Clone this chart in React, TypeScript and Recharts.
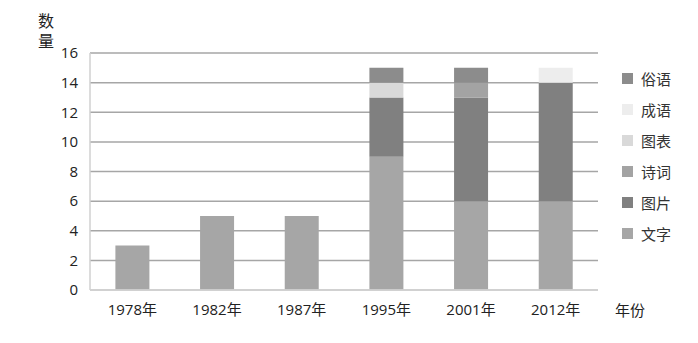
import React from 'react';
import { BarChart, Bar, XAxis, YAxis, CartesianGrid } from 'recharts';

const years = ['1978年', '1982年', '1987年', '1995年', '2001年', '2012年'];
const wenzi = [3, 5, 5, 9, 6, 6];
const tupian = [0, 0, 0, 4, 7, 8];
const shici = [0, 0, 0, 0, 1, 0];
const tubiao = [0, 0, 0, 1, 0, 0];
const chengyu = [0, 0, 0, 0, 0, 1];
const suyu = [0, 0, 0, 1, 1, 0];
const yTicks = [0, 2, 4, 6, 8, 10, 12, 14, 16];

const SERIES = [
  { key: '文字', values: wenzi, color: '#a6a6a6' },
  { key: '图片', values: tupian, color: '#808080' },
  { key: '诗词', values: shici, color: '#a3a3a3' },
  { key: '图表', values: tubiao, color: '#d9d9d9' },
  { key: '成语', values: chengyu, color: '#ededed' },
  { key: '俗语', values: suyu, color: '#8c8c8c' },
];

const data = years.map((year, i) => {
  const row: Record<string, string | number> = { year };
  SERIES.forEach((s) => {
    row[s.key] = s.values[i];
  });
  return row;
});

const FONT = '"Open Sans", "Noto Sans CJK SC", sans-serif';

// legend lists the series top-down in reverse stack order, like the source
const LegendList = () => (
  <div style={{ position: 'absolute', left: 622, top: 63, fontFamily: FONT, fontSize: 15, color: '#333' }}>
    {[...SERIES].reverse().map((s) => (
      <div key={s.key} style={{ display: 'flex', alignItems: 'center', height: 31 }}>
        <span style={{ width: 11, height: 11, background: s.color, marginRight: 8, display: 'inline-block' }} />
        <span>{s.key}</span>
      </div>
    ))}
  </div>
);

const App: React.FC = () => {
  return (
    <div style={{ position: 'relative', width: 698, height: 343, margin: -8, background: '#fff', fontFamily: FONT }}>
      <BarChart
        width={698}
        height={343}
        data={data}
        margin={{ top: 53, right: 100, bottom: 0, left: 0 }}
        barCategoryGap="30%"
      >
        <CartesianGrid vertical={false} stroke="#a6a6a6" strokeWidth={1.5} />
        <XAxis
          dataKey="year"
          height={53}
          tickLine={false}
          tickSize={0}
          tickMargin={14}
          axisLine={{ stroke: '#d9d9d9', strokeWidth: 1.5 }}
          tick={{ fill: '#222', fontSize: 15, fontFamily: FONT }}
        />
        <YAxis
          width={90}
          domain={[0, 16]}
          ticks={yTicks}
          tickLine={false}
          tickSize={0}
          tickMargin={12}
          axisLine={{ stroke: '#d0d0d0', strokeWidth: 1.5 }}
          tick={{ fill: '#222', fontSize: 15, fontFamily: FONT }}
          interval={0}
        />
        {SERIES.map((s) => (
          <Bar key={s.key} dataKey={s.key} stackId="a" fill={s.color} isAnimationActive={false} />
        ))}
      </BarChart>
      <LegendList />
      <div style={{ position: 'absolute', left: 38, top: 10, width: 18, fontSize: 16, lineHeight: '20px', color: '#222', fontFamily: '"Noto Sans CJK SC", sans-serif' }}>
        数量
      </div>
      <div style={{ position: 'absolute', left: 615, top: 299, fontSize: 15, color: '#222', fontFamily: '"Noto Sans CJK SC", sans-serif' }}>
        年份
      </div>
    </div>
  );
};

export default App;
